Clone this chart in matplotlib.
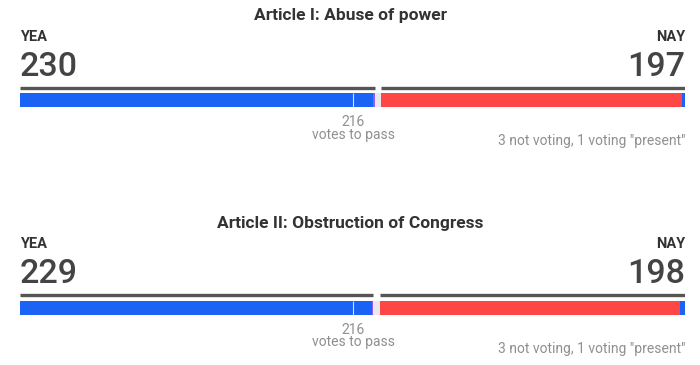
import matplotlib.pyplot as plt

plt.rcParams['font.family'] = ['Roboto', 'DejaVu Sans']

# data
titles = ["Article I: Abuse of power", "Article II: Obstruction of Congress"]
yea_dem = [229, 228]
yea_ind = [1, 1]
nay_rep = [195, 195]
nay_dem = [2, 3]
not_voting = [3, 3]
present = [1, 1]
to_pass = 216

BLUE = "#1a63f5"
PURPLE = "#8d5ef2"
RED = "#ff4646"
GAP = "#e9e8ee"
LINE = "#555555"
DARK = "#333333"
GREY = "#8f8f8f"

W, H = 700, 365
fig = plt.figure(figsize=(W / 100, H / 100), dpi=100)
total = yea_dem[0] + yea_ind[0] + not_voting[0] + present[0] + nay_rep[0] + nay_dem[0]

# one axes: x in votes, y in pixels from the top
ax = fig.add_axes([20 / W, 0, 665 / W, 1])
ax.set_xlim(0, total)
ax.set_ylim(H, 0)
ax.axis("off")

for i, title in enumerate(titles):
    off = i * 207.5
    yea = yea_dem[i] + yea_ind[i]
    nay = nay_rep[i] + nay_dem[i]
    absent = not_voting[i] + present[i]

    fig.text(0.5, 1 - (20 + off) / H, title, ha="center", va="baseline",
             fontsize=12.5, fontweight="bold", color=DARK)
    ax.text(0, 41 + off, "YEA", ha="left", va="baseline", fontsize=10.5,
            fontweight="bold", color=DARK)
    ax.text(total, 41 + off, "NAY", ha="right", va="baseline", fontsize=10.5,
            fontweight="bold", color=DARK)
    ax.text(-0.5, 75.5 + off, str(yea), ha="left", va="baseline", fontsize=24.5,
            fontweight=500, color="#444444")
    ax.text(total, 75.5 + off, str(nay), ha="right", va="baseline", fontsize=24.5,
            fontweight=500, color="#444444")

    # dark rules above the bar
    ax.hlines(87.5 + off, 0, yea, color=LINE, lw=2.4, capstyle="butt")
    ax.hlines(87.5 + off, yea + absent, total, color=LINE, lw=2.4, capstyle="butt")

    # stacked bar
    y = 100 + off
    left = 0
    for val, col in [(yea_dem[i], BLUE), (yea_ind[i], PURPLE), (absent, GAP),
                     (nay_rep[i], RED), (nay_dem[i], BLUE)]:
        ax.barh(y, val, left=left, height=14, color=col, linewidth=0)
        left += val
    ax.vlines(to_pass, y - 7, y + 7, color="white", lw=0.8, alpha=0.8)

    ax.text(to_pass, 126 + off, str(to_pass), ha="center", va="baseline",
            fontsize=10, color=GREY)
    ax.text(to_pass, 138.5 + off, "votes to pass", ha="center", va="baseline",
            fontsize=10, color=GREY)
    ax.text(total, 145 + off,
            f'{not_voting[i]} not voting, {present[i]} voting "present"',
            ha="right", va="baseline", fontsize=10, color=GREY)

fig.savefig("out.png", dpi=100)
